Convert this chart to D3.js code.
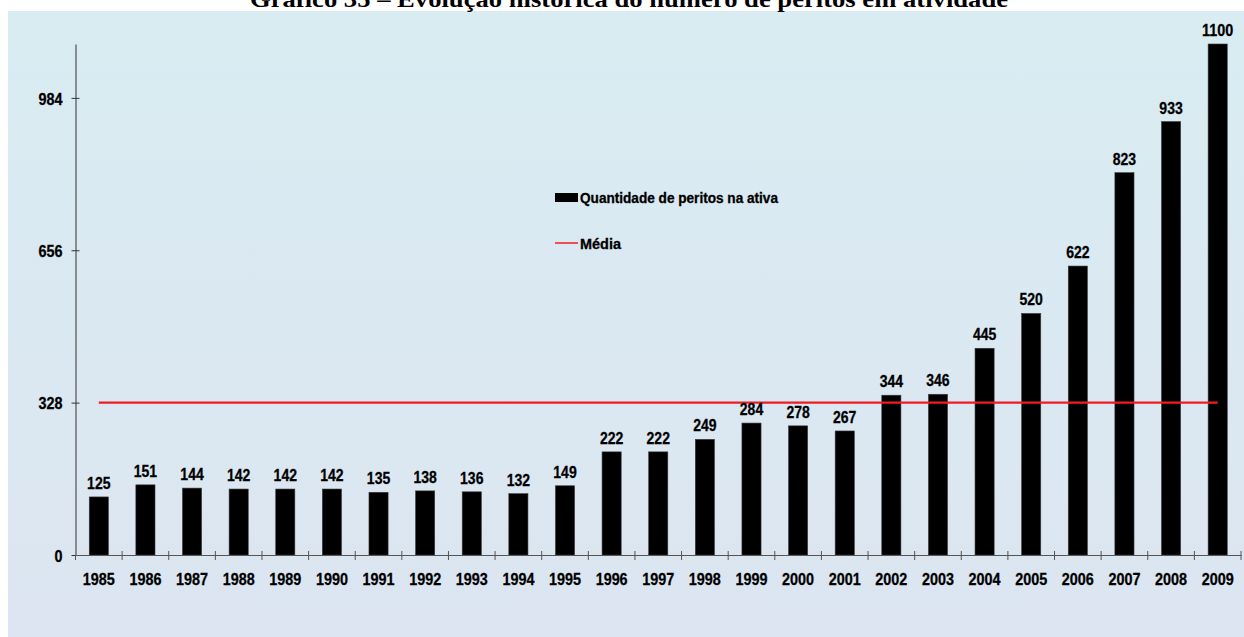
<!DOCTYPE html>
<html>
<head>
<meta charset="utf-8">
<script src="https://cdn.jsdelivr.net/npm/d3@7"></script>
<style>
  html, body { margin: 0; padding: 0; background: #ffffff; }
  svg { display: block; }
  .num { font-family: "Liberation Sans", Arial, sans-serif; font-weight: bold; stroke: #000; stroke-width: 0.3px; }
</style>
</head>
<body>
<svg id="chart" width="1244" height="637"></svg>
<script>
// Number of active experts per year
const years = ["1985","1986","1987","1988","1989","1990","1991","1992","1993","1994","1995","1996","1997","1998","1999","2000","2001","2002","2003","2004","2005","2006","2007","2008","2009"];
const peritos = [125,151,144,142,142,142,135,138,136,132,149,222,222,249,284,278,267,344,346,445,520,622,823,933,1100];
const media = 328;
const yTicks = [0, 328, 656, 984];
const titleText = "Gráfico 35 – Evolução histórica do número de peritos em atividade";
const legendLabels = ["Quantidade de peritos na ativa", "Média"];

const svg = d3.select("#chart");

// Narrow bold numerals: squeeze each label to a fixed advance per character
function narrow(sel, perChar) {
  sel.attr("textLength", function () { return this.textContent.length * perChar; })
     .attr("lengthAdjust", "spacingAndGlyphs");
}

// Panel background with a soft vertical gradient
const defs = svg.append("defs");
const grad = defs.append("linearGradient").attr("id", "bg").attr("x1", 0).attr("y1", 0).attr("x2", 0).attr("y2", 1);
grad.append("stop").attr("offset", "0%").attr("stop-color", "#d9ecf2");
grad.append("stop").attr("offset", "100%").attr("stop-color", "#dce5f1");
svg.append("rect").attr("x", 8).attr("y", 11).attr("width", 1236).attr("height", 626).attr("fill", "url(#bg)");

// Title (sits at the very top edge)
svg.append("text")
  .attr("x", 629).attr("y", 7)
  .attr("text-anchor", "middle")
  .attr("textLength", 758).attr("lengthAdjust", "spacingAndGlyphs")
  .style("font-family", "'Liberation Serif', 'Times New Roman', serif")
  .style("font-weight", "bold").style("font-size", "23px")
  .attr("fill", "#000")
  .text(titleText);

const x0 = 75.5, x1 = 1241, yTop = 44, yBase = 555;

const x = d3.scaleBand().domain(years).range([x0, x1]).paddingInner(0.59).paddingOuter(0.295);
const y = d3.scaleLinear().domain([0, 1100]).range([yBase, yTop]);

// Y axis
const yAxis = svg.append("g").attr("transform", `translate(${x0},0)`)
  .call(d3.axisLeft(y).tickValues(yTicks).tickSize(4).tickSizeOuter(0).tickPadding(9));
yAxis.select(".domain").attr("stroke", "#333");
yAxis.selectAll(".tick line").attr("stroke", "#333").attr("x2", 4).attr("x1", -4);
yAxis.selectAll(".tick text").attr("class", "num").style("font-size", "17px").attr("fill", "#000").attr("dy", "0.36em")
  .call(narrow, 8);

// Bars
svg.append("g").selectAll("rect").data(peritos).join("rect")
  .attr("x", (d, i) => x(years[i]))
  .attr("y", d => y(d))
  .attr("width", x.bandwidth())
  .attr("height", d => y(0) - y(d))
  .attr("fill", "#000")
  .attr("stroke", "#3a3a3a").attr("stroke-width", 0.6);

// X axis: labels centred under bars, ticks on category boundaries
const xAxis = svg.append("g").attr("transform", `translate(0,${yBase})`)
  .call(d3.axisBottom(x).tickSize(0).tickSizeOuter(0).tickPadding(18));
xAxis.select(".domain").attr("stroke", "#555");
xAxis.selectAll(".tick text").attr("class", "num").style("font-size", "17px").attr("fill", "#000")
  .call(narrow, 8);
const bounds = d3.range(years.length + 1).map(i => x0 + i * x.step());
svg.append("g").selectAll("line").data(bounds).join("line")
  .attr("x1", d => d).attr("x2", d => d)
  .attr("y1", d => d === x0 ? yBase : yBase - 4).attr("y2", yBase + 5)
  .attr("stroke", "#555").attr("stroke-width", 1);

// Mean line from first to last category centre
svg.append("line")
  .attr("x1", x(years[0]) + x.bandwidth() / 2)
  .attr("x2", x(years[years.length - 1]) + x.bandwidth() / 2)
  .attr("y1", y(media)).attr("y2", y(media))
  .attr("stroke", "#ee1c24").attr("stroke-width", 2.2);

// Value labels above bars
svg.append("g").selectAll("text").data(peritos).join("text")
  .attr("class", "num")
  .attr("x", (d, i) => x(years[i]) + x.bandwidth() / 2)
  .attr("y", d => y(d) - 8)
  .attr("text-anchor", "middle")
  .style("font-size", "17px")
  .attr("fill", "#000")
  .text(d => d)
  .call(narrow, 7.8);

// Legend
const lg = svg.append("g").attr("transform", "translate(555,0)");
lg.append("rect").attr("x", 0).attr("y", 193).attr("width", 23).attr("height", 9).attr("fill", "#000");
lg.append("text").attr("class", "num").attr("x", 25).attr("y", 203).style("font-size", "14px").attr("fill", "#000")
  .attr("textLength", 198).attr("lengthAdjust", "spacingAndGlyphs").text(legendLabels[0]);
lg.append("line").attr("x1", 0).attr("x2", 23).attr("y1", 243).attr("y2", 243).attr("stroke", "#ee1c24").attr("stroke-width", 1.5);
lg.append("text").attr("class", "num").attr("x", 25).attr("y", 249).style("font-size", "14px").attr("fill", "#000")
  .attr("textLength", 41).attr("lengthAdjust", "spacingAndGlyphs").text(legendLabels[1]);
</script>
</body>
</html>
